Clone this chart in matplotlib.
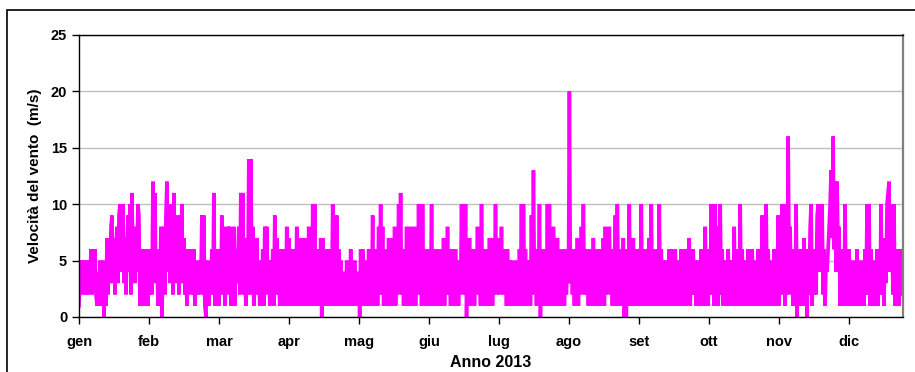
import numpy as np
import matplotlib.pyplot as plt
from matplotlib.patches import Rectangle

plt.rcParams['font.family'] = ['Liberation Sans', 'DejaVu Sans']

# wind speed (m/s) (about one value per pixel column)
gen = [1, 5, 2, 5, 3, 5, 2, 4, 5, 2, 5, 3, 6, 2, 6, 3, 6, 2, 1, 4, 1, 5, 2, 1, 5, 0, 3, 1,
       7, 2, 7, 3, 8, 9, 3, 7, 2, 6, 8, 3, 9, 10, 4, 8, 10, 3, 7, 2, 6, 9, 4, 10, 2, 11, 5, 8,
       3, 7, 4, 10, 9, 1, 6, 2, 6, 1, 5, 2, 6, 1, 4, 2]
feb = [6, 2, 12, 4, 11, 3, 6, 1, 5, 2, 8, 0, 4, 8, 2, 9, 12, 4, 10, 3, 9, 10, 2, 11, 5, 9, 3,
       7, 2, 9, 4, 10, 3, 7, 2, 6, 1, 5, 2, 6, 3, 5, 2, 6, 1, 4, 2, 5, 2, 4, 3, 9, 2, 9, 1, 0,
       3, 5, 1, 4, 2, 6, 2, 11, 1, 5, 4, 6, 1, 5]
mar = [2, 9, 3, 8, 1, 6, 2, 8, 3, 8, 1, 7, 2, 8, 1, 6, 3, 5, 8, 2, 11, 4, 11, 2, 7, 1, 6, 3,
       14, 2, 14, 5, 8, 1, 7, 3, 7, 2, 4, 1, 5, 2, 6, 1, 8, 2, 8, 3, 5, 1, 5, 2, 6, 1, 9, 3, 7,
       2, 4, 1, 6, 2, 6, 1, 5, 2, 8, 1, 7, 3]
apr = [5, 1, 6, 2, 5, 1, 8, 2, 6, 1, 7, 2, 6, 1, 7, 3, 5, 1, 8, 2, 5, 1, 10, 2, 10, 1, 6, 2,
       5, 1, 7, 0, 7, 3, 6, 1, 5, 2, 6, 1, 4, 2, 10, 1, 5, 2, 9, 1, 6, 2, 5, 1, 4, 2, 4, 1, 5,
       2, 4, 1, 6, 2, 3, 1, 5, 2, 4, 1, 4, 0]
mag = [6, 1, 6, 2, 5, 1, 4, 2, 6, 1, 4, 2, 9, 1, 6, 2, 5, 1, 8, 3, 10, 2, 8, 1, 6, 2, 5, 1,
       7, 2, 7, 1, 5, 2, 8, 1, 6, 2, 10, 3, 11, 2, 6, 1, 6, 2, 8, 1, 6, 2, 8, 1, 6, 2, 8, 1, 5,
       2, 10, 3, 6, 1, 10, 2, 6, 1, 5, 2, 6, 1]
giu = [2, 10, 1, 6, 2, 5, 1, 6, 3, 5, 1, 6, 2, 7, 1, 5, 3, 8, 2, 5, 1, 6, 2, 5, 1, 6, 2, 4,
       1, 5, 2, 10, 3, 6, 2, 10, 0, 5, 2, 7, 1, 6, 2, 5, 1, 6, 3, 8, 2, 5, 1, 10, 2, 6, 1, 5,
       2, 6, 1, 7, 2, 7, 1, 5, 2, 10, 3, 6, 2]
lug = [7, 3, 8, 2, 6, 3, 5, 1, 6, 2, 5, 1, 5, 2, 4, 1, 5, 2, 4, 1, 6, 2, 10, 1, 10, 2, 6, 1,
       5, 2, 5, 1, 9, 2, 13, 3, 6, 1, 5, 2, 10, 0, 6, 2, 5, 1, 6, 2, 10, 1, 10, 2, 6, 1, 8, 2,
       5, 1, 7, 3, 6, 1, 5, 2, 6, 1, 5, 2, 6, 3]
ago = [20, 3, 6, 2, 5, 1, 6, 2, 7, 1, 6, 2, 8, 3, 10, 2, 6, 3, 5, 1, 6, 2, 5, 1, 7, 2, 6, 1,
       4, 2, 6, 1, 5, 2, 7, 1, 8, 2, 6, 3, 8, 2, 6, 1, 5, 2, 9, 1, 10, 3, 6, 1, 5, 2, 7, 0, 5,
       0, 6, 2, 10, 1, 6, 2, 7, 1, 5, 2, 6, 1]
sett = [6, 2, 10, 1, 6, 2, 5, 1, 6, 2, 7, 1, 10, 2, 6, 1, 5, 2, 6, 1, 10, 2, 6, 1, 5, 2, 5,
        1, 4, 2, 6, 1, 6, 2, 5, 1, 6, 3, 5, 1, 4, 2, 6, 1, 5, 2, 6, 1, 5, 2, 7, 1, 5, 2, 6, 2,
        5, 1, 5, 2, 4, 1, 6, 2, 5, 1, 8, 2, 6, 1]
ott = [6, 2, 10, 3, 9, 1, 10, 2, 8, 1, 6, 10, 2, 6, 1, 5, 2, 4, 1, 6, 2, 5, 1, 5, 2, 8, 1,
       6, 2, 5, 1, 10, 2, 6, 1, 5, 2, 4, 1, 6, 2, 5, 1, 6, 2, 5, 1, 4, 2, 6, 1, 5, 2, 9, 1, 6,
       2, 10, 1, 6, 2, 5, 1, 4, 2, 6, 1, 5, 2]
nov = [9, 1, 6, 2, 10, 4, 8, 1, 10, 2, 16, 5, 8, 2, 6, 1, 5, 2, 10, 0, 5, 1, 6, 2, 5, 1, 7,
       1, 5, 0, 6, 2, 8, 10, 1, 5, 2, 6, 2, 9, 10, 4, 8, 6, 10, 2, 6, 1, 5, 4, 6, 8, 10, 13, 7,
       16, 6, 12, 4, 12, 6, 8, 1, 5, 2, 6, 1, 10, 2, 5, 1]
dic = [6, 2, 5, 1, 4, 2, 5, 1, 6, 2, 5, 1, 4, 2, 5, 1, 6, 2, 10, 2, 10, 1, 6, 2, 5, 1, 4, 2,
       6, 1, 5, 2, 10, 2, 6, 1, 7, 3, 10, 11, 12, 4, 10, 6, 2, 10, 1, 6, 2, 5, 1, 6, 2, 6, 2]

month_labels = ['gen', 'feb', 'mar', 'apr', 'mag', 'giu',
                'lug', 'ago', 'set', 'ott', 'nov', 'dic']

speed = np.array(gen + feb + mar + apr + mag + giu + lug + ago + sett + ott + nov + dic)
hours = np.linspace(0, 8760, len(speed))

fig = plt.figure(figsize=(9.15, 3.72), dpi=100)
ax = fig.add_axes([79 / 915, 1 - 317 / 372, 824 / 915, 282 / 372])

ax.plot(hours, speed, color='#FF00FF', linewidth=2.6, solid_joinstyle='miter')

ax.set_xlim(0, 8760)
ax.set_ylim(0, 25)
ax.set_yticks(range(0, 30, 5))
ax.set_xticks([744 * i for i in range(12)])
ax.set_xticklabels(month_labels)

ax.yaxis.grid(True, color='#bfbfbf', linewidth=1.0)
ax.set_axisbelow(True)

for side in ['left', 'bottom', 'top']:
    ax.spines[side].set_color('black')
    ax.spines[side].set_linewidth(1.0)
ax.spines['right'].set_color('#808080')
ax.spines['right'].set_linewidth(1.6)

ax.tick_params(axis='both', direction='out', length=5, width=1, colors='black',
               labelsize=10.5)
ax.tick_params(axis='x', pad=8)
for lbl in ax.get_xticklabels() + ax.get_yticklabels():
    lbl.set_fontweight('bold')

ax.set_ylabel('Velocità del vento  (m/s)', fontsize=11, fontweight='bold', labelpad=6)
ax.set_xlabel('Anno 2013', fontsize=11.5, fontweight='bold', labelpad=4)

# chart area border (runs past the right and bottom edges of the picture)
fig.patches.append(Rectangle((7 / 915, -0.2), 1.2, 1 - 10 / 372 + 0.2,
                             transform=fig.transFigure, fill=False,
                             edgecolor='black', linewidth=1.2, clip_on=False))

fig.savefig('out.png', dpi=100)
